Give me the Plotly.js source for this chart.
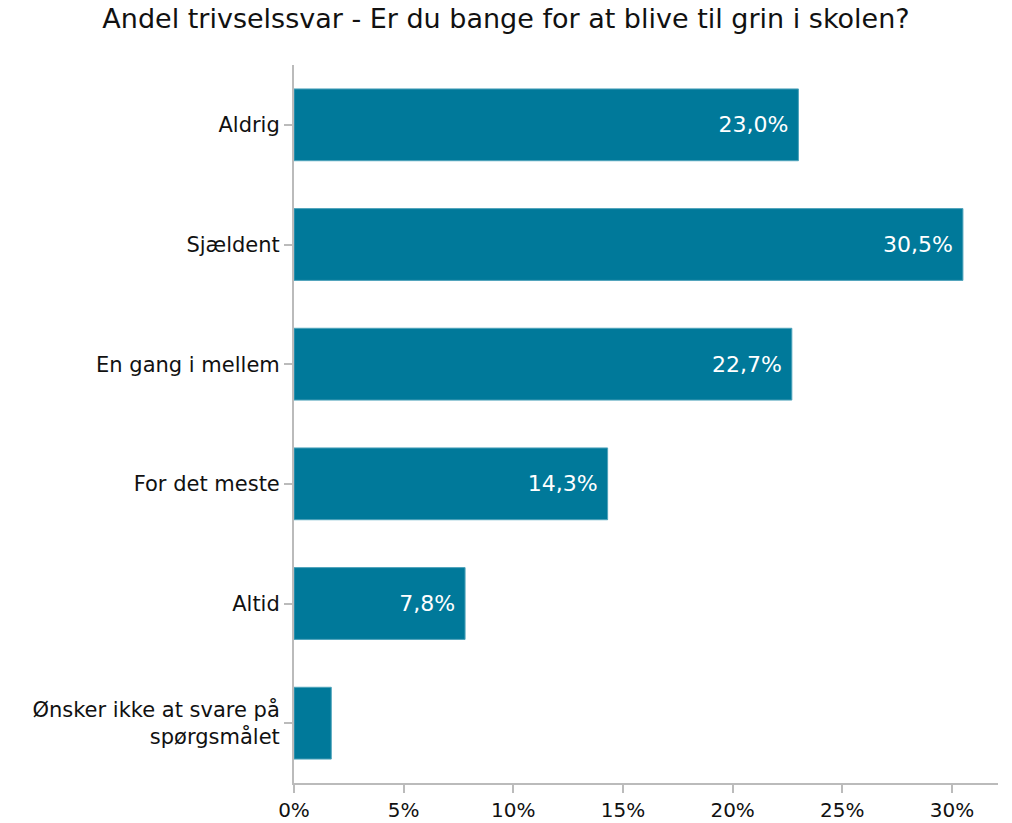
<!DOCTYPE html>
<html><head><meta charset="utf-8">
<script src="https://cdn.plot.ly/plotly-3.0.1.min.js"></script>
<style>body{margin:0;background:#fff}</style>
</head><body><div id="chart" style="width:1012px;height:823px"></div>
<script>
const categories = ["Aldrig", "Sjældent", "En gang i mellem", "For det meste", "Altid", "Ønsker ikke at svare på<br>spørgsmålet"];
const values = [23.0, 30.5, 22.7, 14.3, 7.8, 1.7];
const tickVals = [0, 5, 10, 15, 20, 25, 30];
const tickLabels = tickVals.map(v => v + '%');

const trace = {
  type: 'bar', orientation: 'h',
  x: values, y: categories,
  marker: {color: '#00799A', line: {color: '#4fa3bb', width: 1}},
  texttemplate: '%{x:.1f}%\u00a0', textposition: 'inside', insidetextanchor: 'end', textangle: 0,
  insidetextfont: {color: '#ffffff', size: 22, family: 'DejaVu Sans, Verdana, sans-serif'},
  hoverinfo: 'none'
};
const layout = {
  width: 1012, height: 823,
  margin: {l: 294, r: 14, t: 65, b: 40},
  separators: ',.',
  font: {family: 'DejaVu Sans, Verdana, sans-serif', size: 20, color: '#111'},
  title: {text: 'Andel trivselssvar - Er du bange for at blive til grin i skolen?', x: 0.5, xanchor: 'center', y: 0.978, yanchor: 'middle', font: {size: 27, family: 'DejaVu Sans, sans-serif', color: '#111'}},
  bargap: 0.4,
  uniformtext: {mode: 'hide', minsize: 20},
  xaxis: {range: [0, 32.1], tickmode: 'array', tickvals: tickVals, ticktext: tickLabels, showgrid: false, zeroline: false,
    showline: true, linecolor: '#bbbbbb', linewidth: 2, ticks: 'outside', ticklen: 8, tickcolor: '#bbbbbb', tickwidth: 2, tickfont: {size: 20}},
  yaxis: {autorange: 'reversed', showgrid: false, zeroline: false, showline: true, linecolor: '#bbbbbb', linewidth: 2,
    ticks: 'outside', ticklen: 8, tickcolor: '#bbbbbb', tickwidth: 2, tickfont: {size: 21}},
  plot_bgcolor: '#fff', paper_bgcolor: '#fff', showlegend: false
};
Plotly.newPlot('chart', [trace], layout, {staticPlot: true});
</script></body></html>
